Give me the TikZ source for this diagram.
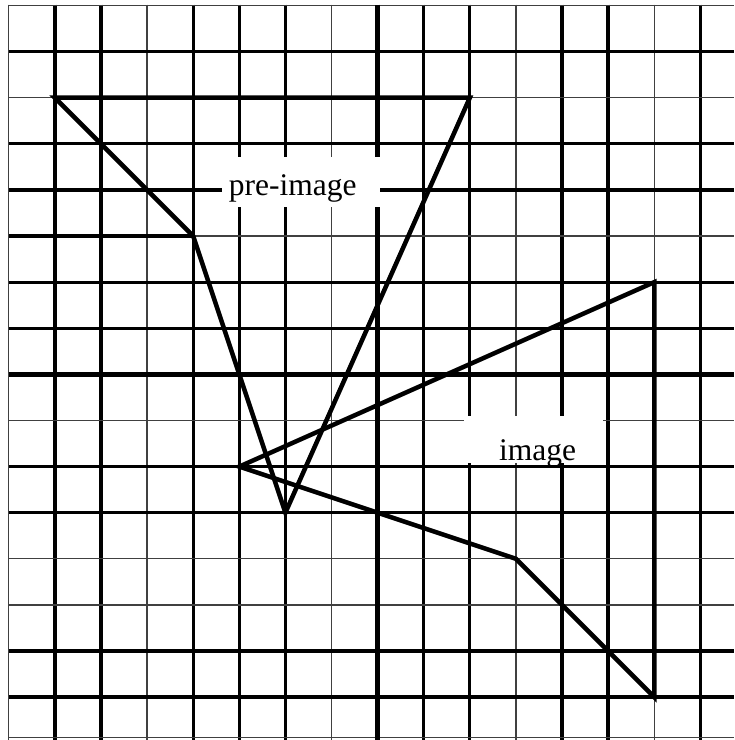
\documentclass[tikz,border=0pt]{standalone}
\usepackage{fontspec}
\setmainfont{Liberation Serif}
\begin{document}
\begin{tikzpicture}[x=46.1bp,y=46.1bp,
  thickgrid/.style={line width=3.3bp,black},
  thingrid/.style={line width=1.2bp,black!75},
  axisline/.style={line width=5.5bp,black},
  shapeline/.style={line width=4.5bp,black,line join=miter},
  labelbox/.style={fill=white,draw=none},
  labeltext/.style={inner sep=0pt,anchor=base,font=\fontsize{31.5bp}{36bp}\selectfont}]
\useasboundingbox (-8.19,8.12) rectangle (7.733,-7.93);
\fill[white] (-8.19,8.12) rectangle (7.733,-7.93);
% vertical grid lines
\foreach \i in {-7,-6,-4,-3,-2,1,2,4,5,7}
  \draw[thickgrid] (\i,8.02) -- (\i,-7.93);
\foreach \i in {-5,-1,3,6}
  \draw[thingrid] (\i,8.02) -- (\i,-7.93);
\draw[thingrid] (-8,8.02) -- (-8,-7.93);
% horizontal grid lines
\foreach \j in {7,5,4,2,1,-2,-3,-6,-7}
  \draw[thickgrid] (-8,\j) -- (7.733,\j);
\foreach \j in {6,-1,-4,-5}
  \draw[thingrid] (-8,\j) -- (7.733,\j);
\draw[thickgrid] (-8,3) -- (-4,3);
\draw[thingrid] (-4,3) -- (7.733,3);
\draw[line width=1.8bp,black!75] (-8,8) -- (7.733,8);
\draw[thingrid] (-8,-7.87) -- (7.733,-7.87);
% axes
\draw[axisline] (0,8.02) -- (0,-7.93);
\draw[axisline] (-8,0) -- (7.733,0);
% label boxes
\fill[labelbox] (-3.37,4.71) rectangle (0.054,3.63);
\fill[labelbox] (1.876,-0.905) rectangle (4.89,-1.924);
\node[labeltext] (pre) at (-1.84,3.89) {pre-image};
\node[labeltext] (img) at (3.47,-1.86) {image};
% pre-image
\coordinate (A) at (-7,6);
\coordinate (B) at (2,6);
\coordinate (C) at (-2,-3);
\coordinate (D) at (-4,3);
\draw[shapeline] (A) -- (B) -- (C) -- (D) -- cycle;
% image
\coordinate (E) at (-3,-2);
\coordinate (F) at (6,2);
\coordinate (G) at (6,-7);
\coordinate (H) at (3,-4);
\draw[shapeline] (E) -- (F) -- (G) -- (H) -- cycle;
\end{tikzpicture}
\end{document}
